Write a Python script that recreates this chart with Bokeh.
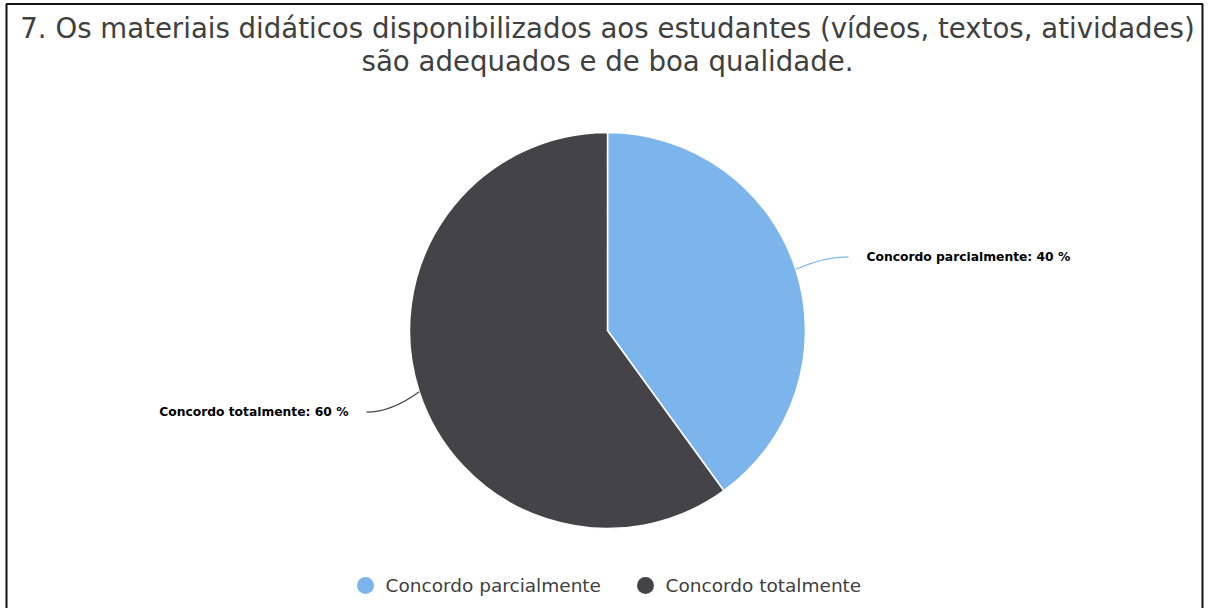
import math
from bokeh.plotting import figure
from bokeh.models import Range1d, BoxAnnotation, ColumnDataSource
from bokeh.core.properties import value
from bokeh.embed import file_html
from bokeh.resources import INLINE

# survey answers
categories = ["Concordo parcialmente", "Concordo totalmente"]
percentages = [40, 60]
colors = ["#7cb5ec", "#434348"]
title_lines = [
    "7. Os materiais didáticos disponibilizados aos estudantes (vídeos, textos, atividades)",
    "são adequados e de boa qualidade.",
]

W, H = 1210, 608
FONT = "DejaVu Sans"

p = figure(width=W, height=H, output_backend="svg", toolbar_location=None,
           x_range=Range1d(0, W), y_range=Range1d(0, H), min_border=0)
p.axis.visible = False
p.grid.visible = False
p.outline_line_color = None
p.background_fill_color = "white"
p.border_fill_color = "white"


def Y(py):
    # pixel row measured from the top -> data y
    return H - py


# frame around the chart
p.add_layout(BoxAnnotation(left=6, right=1202, top=Y(3.5), bottom=-20,
                           fill_alpha=0, line_color="#111111", line_alpha=1.0,
                           line_width=2))

# pie wedges, starting at 12 o'clock and running clockwise
cx, cy, r = 607, Y(330), 198
total = sum(percentages)
starts, ends, mids = [], [], []
acc = 0.0
for v in percentages:
    a0 = math.pi / 2 - 2 * math.pi * acc / total
    acc += v
    a1 = math.pi / 2 - 2 * math.pi * acc / total
    starts.append(a0)
    ends.append(a1)
    mids.append((a0 + a1) / 2)

src = ColumnDataSource(dict(cat=categories, pct=percentages, color=colors,
                            start=starts, end=ends))
p.wedge(x=cx, y=cy, radius=r, start_angle="start", end_angle="end",
        direction="clock", fill_color="color", line_color="white",
        line_width=1.5, source=src)

# data labels with curved connectors
label_shift = [0, -8]
for cat, pct, col, m, dy in zip(categories, percentages, colors, mids, label_shift):
    ex, ey = cx + r * math.cos(m), cy + r * math.sin(m)
    side = 1 if math.cos(m) >= 0 else -1
    tx = cx + side * (r + 43)
    ty = cy + (r + 40) * math.sin(m) + dy
    ctrl_x = cx + side * (r + 18)
    ctrl_y = ty
    p.quadratic(x0=ex, y0=ey, x1=tx, y1=ty, cx=ctrl_x, cy=ctrl_y,
                line_color=col, line_width=1.2)
    p.text(x=tx + side * 18, y=ty, text=[f"{cat}: {pct} %"],
           text_font=value(FONT), text_font_style="bold",
           text_font_size="12.3px", text_color="#000000",
           text_baseline="middle", text_align="left" if side > 0 else "right")

# title
p.text(x=[607, 607], y=[Y(28), Y(61)], text=title_lines,
       text_font=value(FONT), text_font_size="27.6px", text_color="#404040",
       text_align="center", text_baseline="middle")

# legend
leg_x = [365, 645]
p.scatter(x=leg_x, y=[Y(585)] * 2, size=17, marker="circle",
          fill_color=colors, line_color=None)
p.text(x=[x + 20 for x in leg_x], y=[Y(585)] * 2, text=categories,
       text_font=value(FONT), text_font_size="18.5px", text_color="#404040",
       text_align="left", text_baseline="middle")

open("out.html", "w").write(file_html(p, INLINE))
